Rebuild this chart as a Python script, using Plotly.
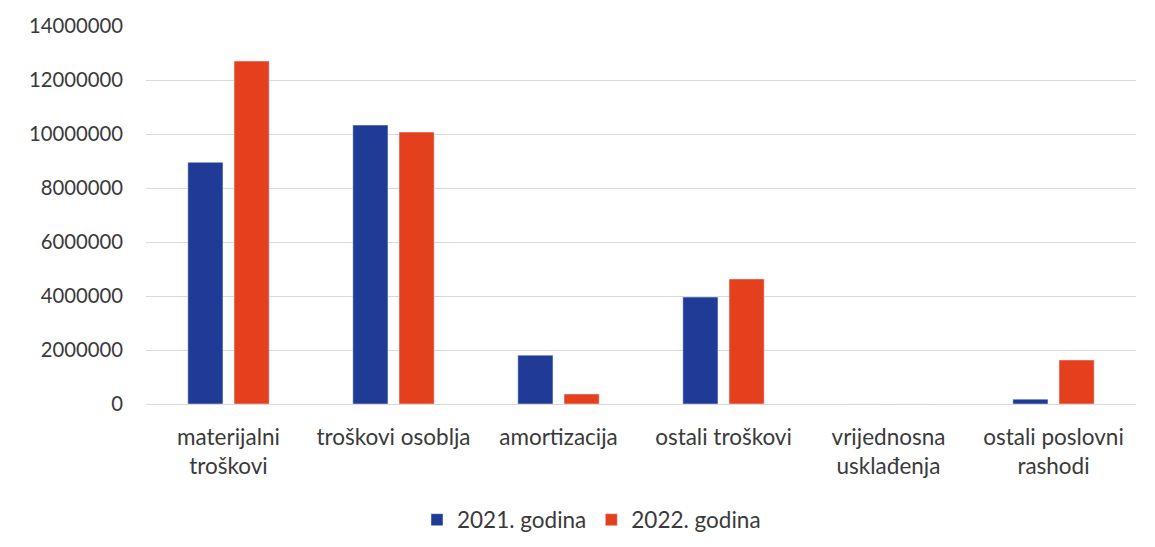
import plotly.graph_objects as go

categories = ["materijalni<br>troškovi", "troškovi osoblja", "amortizacija",
              "ostali troškovi", "vrijednosna<br>usklađenja", "ostali poslovni<br>rashodi"]
values_2021 = [8950000, 10330000, 1810000, 3960000, 0, 180000]
values_2022 = [12700000, 10070000, 370000, 4630000, 0, 1630000]
series_names = ["2021. godina", "2022. godina"]
tick_vals = [0, 2000000, 4000000, 6000000, 8000000, 10000000, 12000000, 14000000]

fig = go.Figure()
fig.add_bar(x=categories, y=values_2021, name=series_names[0], marker_color="#1f3b96")
fig.add_bar(x=categories, y=values_2022, name=series_names[1], marker_color="#e5401d")

fig.update_layout(
    width=1155, height=547,
    paper_bgcolor="white", plot_bgcolor="white",
    margin=dict(l=138, r=27, t=18, b=151, autoexpand=False),
    barmode="group", bargap=0.44, bargroupgap=0.24,
    font=dict(family="Lato, Open Sans, sans-serif", size=20, color="#3a3a3a"),
    legend=dict(orientation="h", x=0.45, xanchor="center", y=-0.307, yanchor="middle",
                font=dict(size=22.5), itemwidth=30, traceorder="normal"),
    showlegend=True,
)
fig.update_yaxes(range=[0, 14000000], tickvals=tick_vals,
                 ticktext=[str(v) for v in tick_vals],
                 showgrid=True, gridcolor="#d9d9d9", gridwidth=1,
                 zeroline=True, zerolinecolor="#d9d9d9", zerolinewidth=1,
                 ticks="", ticklabelstandoff=22, automargin=False,
                 tickfont=dict(size=20.3))
fig.update_xaxes(showgrid=False, ticks="", showline=False, ticklabelstandoff=17,
                 automargin=False, tickfont=dict(size=22.5))

fig.write_html("out.html")
